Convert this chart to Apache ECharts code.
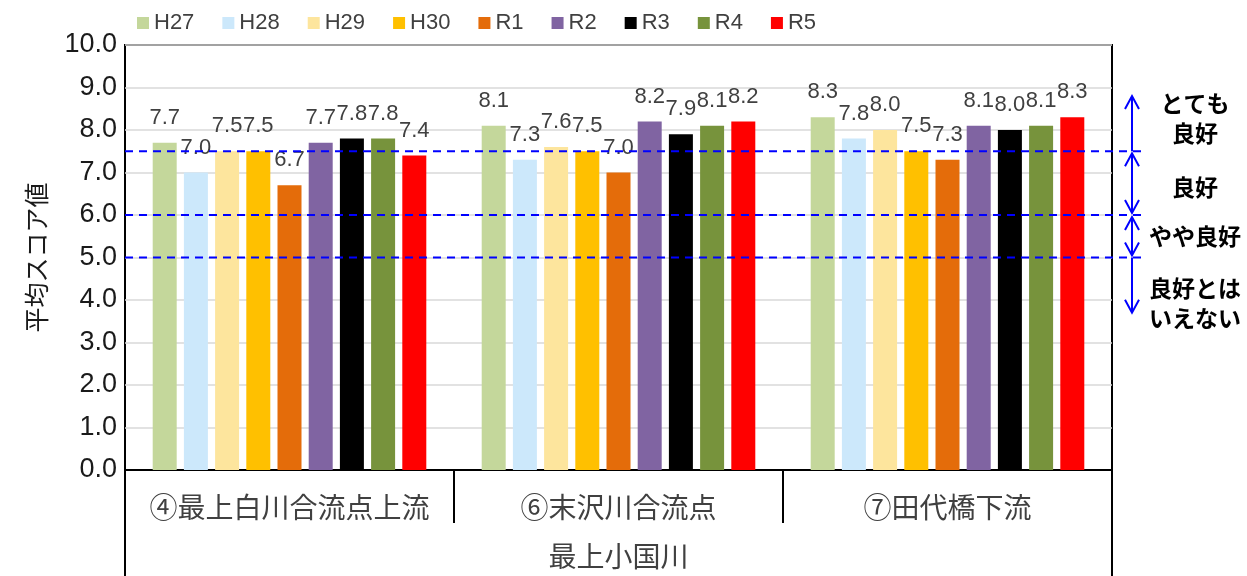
<!DOCTYPE html>
<html>
<head>
<meta charset="utf-8">
<script src="https://cdn.jsdelivr.net/npm/echarts@6/dist/echarts.min.js"></script>
<style>
  html, body { margin: 0; padding: 0; background: #fff; }
  #main { width: 1247px; height: 576px; }
</style>
</head>
<body>
<div id="main"></div>
<script>
// 地点（カテゴリ）
const categories = ['④最上白川合流点上流', '⑥末沢川合流点', '⑦田代橋下流'];
const riverName = '最上小国川';

// 年度ごとの平均スコア値
const years = ['H27', 'H28', 'H29', 'H30', 'R1', 'R2', 'R3', 'R4', 'R5'];
const h27 = [7.7, 8.1, 8.3];
const h28 = [7.0, 7.3, 7.8];
const h29 = [7.5, 7.6, 8.0];
const h30 = [7.5, 7.5, 7.5];
const r1  = [6.7, 7.0, 7.3];
const r2  = [7.7, 8.2, 8.1];
const r3  = [7.8, 7.9, 8.0];
const r4  = [7.8, 8.1, 8.1];
const r5  = [7.4, 8.2, 8.3];
const values = [h27, h28, h29, h30, r1, r2, r3, r4, r5];
const colors = ['#c4d79b', '#cce8fb', '#fde59d', '#ffc000', '#e46c0a', '#8064a2', '#000000', '#77933c', '#ff0000'];

// 評価区分の境界と矢印の範囲
const thresholds = [7.5, 6.0, 5.0];
const arrowTop = 8.8;
const arrowBottom = 3.7;

const GRID = { left: 125, right: 135, top: 45, bottom: 106 };

const chart = echarts.init(document.getElementById('main'));

const series = years.map((name, i) => ({
  name: name,
  type: 'bar',
  barWidth: 24,
  barGap: '30%',
  itemStyle: { color: colors[i] },
  label: {
    show: true,
    position: 'top',
    distance: 14,
    color: '#404040',
    fontSize: 22,
    fontFamily: 'Liberation Sans',
    formatter: p => p.value.toFixed(1)
  },
  data: values[i]
}));

chart.setOption({
  animation: false,
  textStyle: { fontFamily: 'Liberation Sans, Noto Sans CJK JP' },
  legend: {
    top: 7,
    left: 132,
    itemWidth: 12,
    itemHeight: 12,
    itemGap: 28,
    icon: 'rect',
    textStyle: { color: '#404040', fontSize: 22, fontFamily: 'Liberation Sans' },
    data: years
  },
  grid: {
    left: GRID.left,
    right: GRID.right,
    top: GRID.top,
    bottom: GRID.bottom,
    show: true,
    borderColor: '#000',
    borderWidth: 2,
    containLabel: false
  },
  xAxis: {
    type: 'category',
    data: categories,
    axisLine: { lineStyle: { color: '#000', width: 2 } },
    axisTick: { show: true, interval: 0, length: 53, lineStyle: { color: '#000', width: 2 } },
    axisLabel: {
      interval: 0,
      margin: 23,
      color: '#404040',
      fontSize: 28,
      fontFamily: 'Noto Sans CJK JP'
    },
    name: riverName,
    nameLocation: 'middle',
    nameGap: 72,
    nameTextStyle: { color: '#404040', fontSize: 28, fontFamily: 'Noto Sans CJK JP' }
  },
  yAxis: {
    type: 'value',
    min: 0,
    max: 10,
    interval: 1,
    axisLine: { show: false },
    axisTick: { show: false },
    splitLine: { lineStyle: { color: '#d9d9d9', width: 1.5 } },
    axisLabel: {
      margin: 8,
      color: '#1a1a1a',
      fontSize: 27,
      fontFamily: 'Liberation Sans',
      formatter: v => v.toFixed(1)
    },
    name: '平均スコア値',
    nameLocation: 'middle',
    nameRotate: 90,
    nameGap: 76,
    nameTextStyle: { color: '#1a1a1a', fontSize: 25, fontFamily: 'Noto Sans CJK JP' }
  },
  series: series
});

// 評価区分（破線・矢印・文字）を軸の座標から描く
function drawBands() {
  const yPix = v => chart.convertToPixel({ yAxisIndex: 0 }, v);
  const W = chart.getWidth(), H = chart.getHeight();
  const left = GRID.left, right = W - GRID.right;
  const bottomAxis = H - GRID.bottom;
  const ax = right + 20;       // 矢印のx位置
  const dashEnd = right + 35;  // 破線の右端
  const blue = '#0000ff';
  const g = [];

  // 枠の下部延長
  g.push({ type: 'line', shape: { x1: left, y1: bottomAxis, x2: left, y2: H }, style: { stroke: '#000', lineWidth: 2 } });
  g.push({ type: 'line', shape: { x1: right, y1: bottomAxis, x2: right, y2: H }, style: { stroke: '#000', lineWidth: 2 } });

  thresholds.forEach(t => {
    const y = yPix(t);
    g.push({ type: 'line', z: 100, shape: { x1: left, y1: y, x2: dashEnd, y2: y },
      style: { stroke: blue, lineWidth: 2, lineDash: [8, 6] } });
  });

  const head = (y, dir) => ({
    type: 'polyline', z: 100,
    shape: { points: [[ax - 7, y + dir * 13], [ax, y], [ax + 7, y + dir * 13]] },
    style: { stroke: blue, lineWidth: 2, fill: null }
  });
  const seg = (a, b) => ({
    type: 'line', z: 100, shape: { x1: ax, y1: a, x2: ax, y2: b },
    style: { stroke: blue, lineWidth: 2 }
  });

  const yTop = yPix(arrowTop), y75 = yPix(thresholds[0]), y60 = yPix(thresholds[1]), y50 = yPix(thresholds[2]), yBot = yPix(arrowBottom);
  g.push(seg(yTop, y75), head(yTop, 1));
  g.push(seg(y75 + 2, y60 - 2), head(y75 + 2, 1), head(y60 - 2, -1));
  g.push(seg(y60 + 2, y50 - 2), head(y60 + 2, 1), head(y50 - 2, -1));
  g.push(seg(y50, yBot), head(yBot, -1));

  const tx = right + 83;
  const bandText = [
    ['とても\n良好', (yTop + y75) / 2 - 5],
    ['良好', (y75 + y60) / 2 + 4],
    ['やや良好', (y60 + y50) / 2],
    ['良好とは\nいえない', (y50 + yBot) / 2 + 18]
  ];
  bandText.forEach(([txt, y]) => {
    g.push({
      type: 'text', z: 100, x: tx, y: y,
      style: {
        text: txt, fill: '#000', fontSize: 23, fontWeight: 'bold', lineHeight: 30,
        fontFamily: 'Noto Sans CJK JP', align: 'center', verticalAlign: 'middle'
      }
    });
  });

  chart.setOption({ graphic: g });
}
drawBands();
</script>
</body>
</html>
